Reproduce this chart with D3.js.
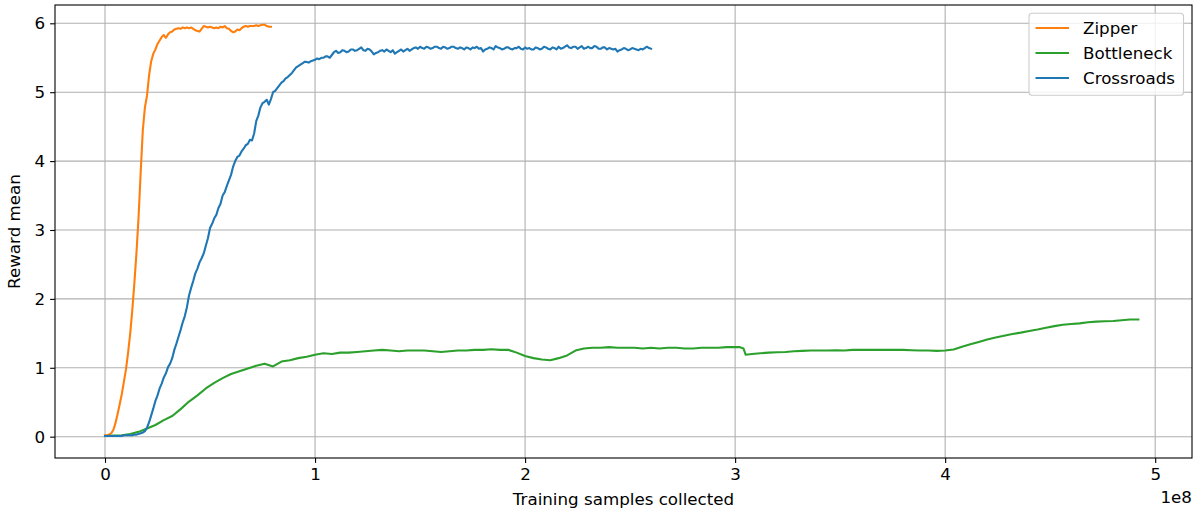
<!DOCTYPE html>
<html>
<head>
<meta charset="utf-8">
<script src="https://cdn.jsdelivr.net/npm/d3@7"></script>
<style>
  html, body { margin: 0; padding: 0; background: #fff; }
  svg { display: block; font-family: "DejaVu Sans", sans-serif; }
</style>
</head>
<body>
<svg id="chart" width="1195" height="513"></svg>
<script>
// Training curves: mean reward vs. samples collected (x in units of 1e8 samples)
const seriesNames = ["Zipper", "Bottleneck", "Crossroads"];
const seriesColors = ["#ff7f0e", "#2ca02c", "#1f77b4"];
const xTicks = [0, 1, 2, 3, 4, 5];
const yTicks = [0, 1, 2, 3, 4, 5, 6];
const xOffsetLabel = "1e8";

const zipperX = [
  0.00, 0.01, 0.02, 0.03, 0.04, 0.05, 0.06, 0.07, 0.08, 0.09,
  0.10, 0.11, 0.12, 0.13, 0.14, 0.15, 0.16, 0.17, 0.18, 0.19,
  0.20, 0.21, 0.22, 0.23, 0.24, 0.25, 0.26, 0.27, 0.28, 0.29,
  0.30, 0.31, 0.32, 0.33, 0.34, 0.35, 0.36, 0.37, 0.38, 0.39,
  0.40, 0.41, 0.42, 0.43, 0.44, 0.45, 0.46, 0.47, 0.48, 0.49,
  0.50, 0.51, 0.52, 0.53, 0.54, 0.55, 0.56, 0.57, 0.58, 0.59,
  0.60, 0.61, 0.62, 0.63, 0.64, 0.65, 0.66, 0.67, 0.68, 0.69,
  0.70, 0.71, 0.72, 0.73, 0.74, 0.75, 0.76, 0.77, 0.78, 0.79
];
const zipperY = [
  0.02, 0.02, 0.03, 0.05, 0.10, 0.20, 0.33, 0.47, 0.62, 0.80,
  0.98, 1.22, 1.50, 1.84, 2.24, 2.68, 3.20, 3.85, 4.45, 4.78,
  4.95, 5.25, 5.45, 5.56, 5.62, 5.70, 5.75, 5.80, 5.83, 5.79,
  5.84, 5.87, 5.88, 5.91, 5.92, 5.93, 5.92, 5.94, 5.93, 5.94,
  5.93, 5.94, 5.92, 5.90, 5.89, 5.88, 5.92, 5.96, 5.95, 5.94,
  5.95, 5.94, 5.93, 5.94, 5.93, 5.95, 5.94, 5.96, 5.93, 5.92,
  5.89, 5.87, 5.88, 5.91, 5.90, 5.93, 5.95, 5.96, 5.95, 5.96,
  5.96, 5.96, 5.97, 5.96, 5.97, 5.98, 5.98, 5.96, 5.95, 5.95
];

const bottleneckX = [
  0.00, 0.04, 0.08, 0.12, 0.16, 0.20, 0.24, 0.28, 0.32, 0.36,
  0.40, 0.44, 0.48, 0.52, 0.56, 0.60, 0.64, 0.68, 0.72, 0.76,
  0.80, 0.84, 0.88, 0.92, 0.96, 1.00, 1.04, 1.08, 1.12, 1.16,
  1.20, 1.24, 1.28, 1.32, 1.36, 1.40, 1.44, 1.48, 1.52, 1.56,
  1.60, 1.64, 1.68, 1.72, 1.76, 1.80, 1.84, 1.88, 1.92, 1.96,
  2.00, 2.04, 2.08, 2.12, 2.16, 2.20, 2.24, 2.28, 2.32, 2.36,
  2.40, 2.44, 2.48, 2.52, 2.56, 2.60, 2.64, 2.68, 2.72, 2.76,
  2.80, 2.84, 2.88, 2.92, 2.96, 3.00, 3.02, 3.04, 3.05, 3.08,
  3.12, 3.16, 3.20, 3.24, 3.28, 3.32, 3.36, 3.40, 3.44, 3.48,
  3.52, 3.56, 3.60, 3.64, 3.68, 3.72, 3.76, 3.80, 3.84, 3.88,
  3.92, 3.96, 4.00, 4.04, 4.08, 4.12, 4.16, 4.20, 4.24, 4.28,
  4.32, 4.36, 4.40, 4.44, 4.48, 4.52, 4.56, 4.60, 4.64, 4.68,
  4.72, 4.76, 4.80, 4.84, 4.88, 4.92
];
const bottleneckY = [
  0.01, 0.015, 0.02, 0.04, 0.07, 0.12, 0.17, 0.24, 0.30, 0.40,
  0.51, 0.60, 0.70, 0.78, 0.85, 0.91, 0.95, 0.99, 1.03, 1.06,
  1.02, 1.09, 1.11, 1.14, 1.16, 1.19, 1.21, 1.20, 1.22, 1.22,
  1.23, 1.24, 1.25, 1.26, 1.25, 1.24, 1.25, 1.25, 1.25, 1.24,
  1.23, 1.24, 1.25, 1.25, 1.26, 1.26, 1.27, 1.26, 1.26, 1.22,
  1.17, 1.14, 1.12, 1.11, 1.14, 1.18, 1.25, 1.28, 1.29, 1.29,
  1.30, 1.29, 1.29, 1.29, 1.28, 1.29, 1.28, 1.29, 1.29, 1.28,
  1.28, 1.29, 1.29, 1.29, 1.30, 1.30, 1.30, 1.28, 1.19, 1.20,
  1.21, 1.22, 1.225, 1.23, 1.24, 1.245, 1.25, 1.25, 1.25, 1.255,
  1.25, 1.26, 1.26, 1.26, 1.26, 1.26, 1.26, 1.26, 1.255, 1.25,
  1.25, 1.245, 1.25, 1.265, 1.305, 1.34, 1.375, 1.41, 1.44, 1.465,
  1.49, 1.51, 1.535, 1.555, 1.58, 1.605, 1.625, 1.635, 1.645, 1.66,
  1.67, 1.675, 1.68, 1.69, 1.70, 1.70
];

// Crossroads is logged every 0.01e8 samples, from 0 to 2.60e8
const crossroadsStep = 0.01;
const crossroadsY = [
  0.01, 0.01, 0.01, 0.01, 0.01, 0.01, 0.01, 0.01, 0.01, 0.02,
  0.02, 0.02, 0.02, 0.02, 0.03, 0.03, 0.04, 0.05, 0.06, 0.08,
  0.13, 0.21, 0.31, 0.41, 0.52, 0.60, 0.70, 0.77, 0.86, 0.92,
  1.01, 1.06, 1.14, 1.26, 1.35, 1.45, 1.55, 1.66, 1.75, 1.88,
  2.05, 2.16, 2.26, 2.37, 2.44, 2.53, 2.59, 2.66, 2.77, 2.88,
  3.03, 3.09, 3.17, 3.22, 3.32, 3.38, 3.50, 3.55, 3.64, 3.72,
  3.80, 3.92, 4.00, 4.06, 4.08, 4.14, 4.18, 4.23, 4.25, 4.31,
  4.30, 4.40, 4.58, 4.66, 4.78, 4.84, 4.86, 4.89, 4.82, 4.90,
  5.00, 5.02, 5.06, 5.10, 5.14, 5.16, 5.20, 5.22, 5.25, 5.28,
  5.32, 5.36, 5.38, 5.40, 5.42, 5.44, 5.44, 5.43, 5.45, 5.46,
  5.47, 5.49, 5.48, 5.50, 5.50, 5.52, 5.52, 5.50, 5.54, 5.58,
  5.60, 5.57, 5.58, 5.61, 5.60, 5.58, 5.59, 5.62, 5.62, 5.60,
  5.61, 5.63, 5.65, 5.61, 5.60, 5.63, 5.62, 5.59, 5.55, 5.57,
  5.58, 5.60, 5.61, 5.59, 5.62, 5.60, 5.58, 5.61, 5.56, 5.58,
  5.60, 5.62, 5.59, 5.61, 5.63, 5.60, 5.62, 5.64, 5.65, 5.63,
  5.66, 5.64, 5.63, 5.66, 5.65, 5.63, 5.64, 5.66, 5.66, 5.64,
  5.63, 5.66, 5.65, 5.63, 5.64, 5.66, 5.66, 5.64, 5.63, 5.65,
  5.64, 5.62, 5.65, 5.64, 5.62, 5.65, 5.64, 5.66, 5.63, 5.64,
  5.59, 5.62, 5.63, 5.65, 5.64, 5.62, 5.67, 5.65, 5.64, 5.62,
  5.63, 5.65, 5.65, 5.63, 5.62, 5.64, 5.64, 5.66, 5.63, 5.62,
  5.65, 5.63, 5.64, 5.62, 5.62, 5.65, 5.64, 5.62, 5.63, 5.66,
  5.65, 5.63, 5.62, 5.65, 5.64, 5.62, 5.66, 5.63, 5.64, 5.66,
  5.68, 5.65, 5.64, 5.66, 5.66, 5.63, 5.65, 5.67, 5.63, 5.64,
  5.66, 5.64, 5.64, 5.67, 5.66, 5.63, 5.63, 5.65, 5.65, 5.62,
  5.64, 5.63, 5.62, 5.63, 5.59, 5.61, 5.62, 5.64, 5.63, 5.61,
  5.62, 5.64, 5.63, 5.62, 5.61, 5.63, 5.62, 5.64, 5.66, 5.64,
  5.63
];
const crossroadsX = crossroadsY.map((_, i) => +(i * crossroadsStep).toFixed(2));

const seriesData = [
  zipperX.map((v, i) => [v, zipperY[i]]),
  bottleneckX.map((v, i) => [v, bottleneckY[i]]),
  crossroadsX.map((v, i) => [v, crossroadsY[i]])
];

// Plot frame
const plotLeft = 55, plotRight = 1192, plotTop = 5, plotBottom = 458;
const fontSize = 16.7;

const svg = d3.select("#chart");
const x = d3.scaleLinear().domain([-0.2381, 5.1752]).range([plotLeft, plotRight]);
const y = d3.scaleLinear().domain([-0.3095, 6.2657]).range([plotBottom, plotTop]);

// Grid
const grid = svg.append("g").attr("stroke", "#b0b0b0").attr("stroke-width", 1.1);
grid.selectAll("line.gx").data(xTicks).join("line")
  .attr("class", "gx")
  .attr("x1", d => x(d)).attr("x2", d => x(d))
  .attr("y1", plotTop).attr("y2", plotBottom);
grid.selectAll("line.gy").data(yTicks).join("line")
  .attr("class", "gy")
  .attr("x1", plotLeft).attr("x2", plotRight)
  .attr("y1", d => y(d)).attr("y2", d => y(d));

// Series lines
const line = d3.line().x(d => x(d[0])).y(d => y(d[1]));
svg.append("g").selectAll("path").data(seriesData).join("path")
  .attr("d", line)
  .attr("fill", "none")
  .attr("stroke", (d, i) => seriesColors[i])
  .attr("stroke-width", 2.1)
  .attr("stroke-linejoin", "round")
  .attr("stroke-linecap", "square");

// Axes
const xAxis = svg.append("g").attr("transform", `translate(0,${plotBottom})`)
  .call(d3.axisBottom(x).tickValues(xTicks).tickFormat(d3.format("d"))
    .tickSizeInner(4.9).tickSizeOuter(0).tickPadding(4.9));
const yAxis = svg.append("g").attr("transform", `translate(${plotLeft},0)`)
  .call(d3.axisLeft(y).tickValues(yTicks).tickFormat(d3.format("d"))
    .tickSizeInner(4.9).tickSizeOuter(0).tickPadding(4.9));
[xAxis, yAxis].forEach(g => {
  g.select(".domain").remove();
  g.selectAll(".tick line").attr("stroke", "#000").attr("stroke-width", 1.1);
  g.selectAll(".tick text").attr("fill", "#000")
    .style("font-family", "'DejaVu Sans', sans-serif").style("font-size", fontSize + "px");
});

// Spines
svg.append("rect")
  .attr("x", plotLeft).attr("y", plotTop)
  .attr("width", plotRight - plotLeft).attr("height", plotBottom - plotTop)
  .attr("fill", "none").attr("stroke", "#000").attr("stroke-width", 1.1);

// Axis labels
svg.append("text")
  .attr("x", (plotLeft + plotRight) / 2).attr("y", 505)
  .attr("text-anchor", "middle").style("font-size", fontSize + "px")
  .text("Training samples collected");
svg.append("text")
  .attr("transform", `translate(20,${(plotTop + plotBottom) / 2}) rotate(-90)`)
  .attr("text-anchor", "middle").style("font-size", fontSize + "px")
  .text("Reward mean");
svg.append("text")
  .attr("x", plotRight).attr("y", 503)
  .attr("text-anchor", "end").style("font-size", fontSize + "px")
  .text(xOffsetLabel);

// Legend
const lg = svg.append("g");
lg.append("rect")
  .attr("x", 1029).attr("y", 13.3).attr("width", 154.5).attr("height", 82)
  .attr("rx", 3).attr("fill", "#fff").attr("fill-opacity", 0.8)
  .attr("stroke", "#cccccc").attr("stroke-width", 1.1);
const rows = lg.selectAll("g.row").data(seriesNames).join("g")
  .attr("class", "row")
  .attr("transform", (d, i) => `translate(0,${28 + i * 25})`);
rows.append("line")
  .attr("x1", 1035.5).attr("x2", 1069)
  .attr("stroke", (d, i) => seriesColors[i]).attr("stroke-width", 2.1);
rows.append("text")
  .attr("x", 1083).attr("y", 6)
  .style("font-size", fontSize + "px")
  .text(d => d);
</script>
</body>
</html>
